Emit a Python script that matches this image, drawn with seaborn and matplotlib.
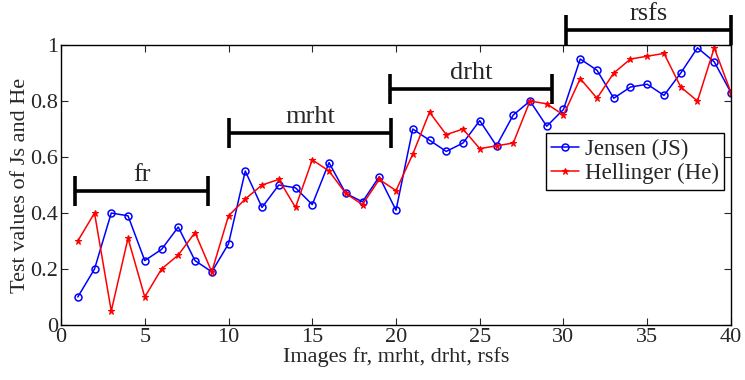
import matplotlib
matplotlib.use("Agg")
import matplotlib.pyplot as plt
import pandas as pd
import seaborn as sns

images = list(range(1, 41))
jensen = [0.10, 0.20, 0.40, 0.39, 0.23, 0.27, 0.35, 0.23, 0.19, 0.29,
          0.55, 0.42, 0.50, 0.49, 0.43, 0.58, 0.47, 0.44, 0.53, 0.41,
          0.70, 0.66, 0.62, 0.65, 0.73, 0.64, 0.75, 0.80, 0.71, 0.77,
          0.95, 0.91, 0.81, 0.85, 0.86, 0.82, 0.90, 0.99, 0.94, 0.83]
hellinger = [0.30, 0.40, 0.05, 0.31, 0.10, 0.20, 0.25, 0.33, 0.19, 0.39,
             0.45, 0.50, 0.52, 0.42, 0.59, 0.55, 0.47, 0.43, 0.52, 0.48,
             0.61, 0.76, 0.68, 0.70, 0.63, 0.64, 0.65, 0.80, 0.79, 0.75,
             0.88, 0.81, 0.90, 0.95, 0.96, 0.97, 0.85, 0.80, 0.99, 0.83]

# group brackets: label, start, end, height
groups = ["fr", "mrht", "drht", "rsfs"]
g_start = [0.84, 10.03, 19.64, 30.15]
g_end = [8.78, 19.7, 29.3, 40.0]
g_level = [0.479, 0.687, 0.843, 1.054]

df = pd.DataFrame({"image": images, "Jensen (JS)": jensen, "Hellinger (He)": hellinger})

sns.set_theme(style="ticks")
plt.rcParams["font.family"] = ["Liberation Serif", "DejaVu Serif"]
plt.rcParams["xtick.direction"] = "in"
plt.rcParams["ytick.direction"] = "in"

fig = plt.figure(figsize=(7.45, 3.8), dpi=100)
ax = fig.add_axes([0.0819, 0.1447, 0.8993, 0.7368])

sns.lineplot(data=df, x="image", y="Jensen (JS)", ax=ax, color="#0000ff", lw=1.1,
             marker="o", markersize=5, markerfacecolor="none", markeredgecolor="#0000ff",
             markeredgewidth=1.1, label="Jensen (JS)")
sns.lineplot(data=df, x="image", y="Hellinger (He)", ax=ax, color="#ff0000", lw=1.1,
             marker="*", markersize=5, markeredgecolor="#ff0000",
             label="Hellinger (He)")

for name, a, b, lev in zip(groups, g_start, g_end, g_level):
    ax.plot([a, b], [lev, lev], color="black", lw=2.6, clip_on=False,
            solid_capstyle="butt")
    for xx in (a, b):
        ax.plot([xx, xx], [lev - 0.054, lev + 0.054], color="black", lw=2.6,
                clip_on=False, solid_capstyle="butt")
    ax.text((a + b) / 2, lev + 0.035, name, ha="center", va="baseline", fontsize=19,
            clip_on=False)

ax.set_xlim(0, 40)
ax.set_ylim(0, 1)
ax.set_xticks(range(0, 41, 5))
ax.set_yticks([0, 0.2, 0.4, 0.6, 0.8, 1])
ax.set_yticklabels(["0", "0.2", "0.4", "0.6", "0.8", "1"])
ax.tick_params(labelsize=16, top=True, right=True, length=5, width=0.8, pad=2)
ax.set_xlabel("Images fr, mrht, drht, rsfs", fontsize=16, labelpad=0)
ax.set_ylabel("Test values of Js and He", fontsize=16, labelpad=0)
for s in ax.spines.values():
    s.set_linewidth(1.0)
    s.set_color("black")

leg = ax.legend(loc="upper right", bbox_to_anchor=(0.99, 0.686), fontsize=16.5,
                frameon=True, fancybox=False, edgecolor="black", framealpha=1,
                handlelength=1.2, handletextpad=0.25, borderpad=0.25, labelspacing=0.15,
                borderaxespad=0)
leg.get_frame().set_linewidth(1.0)

fig.savefig("out.png", dpi=100)
